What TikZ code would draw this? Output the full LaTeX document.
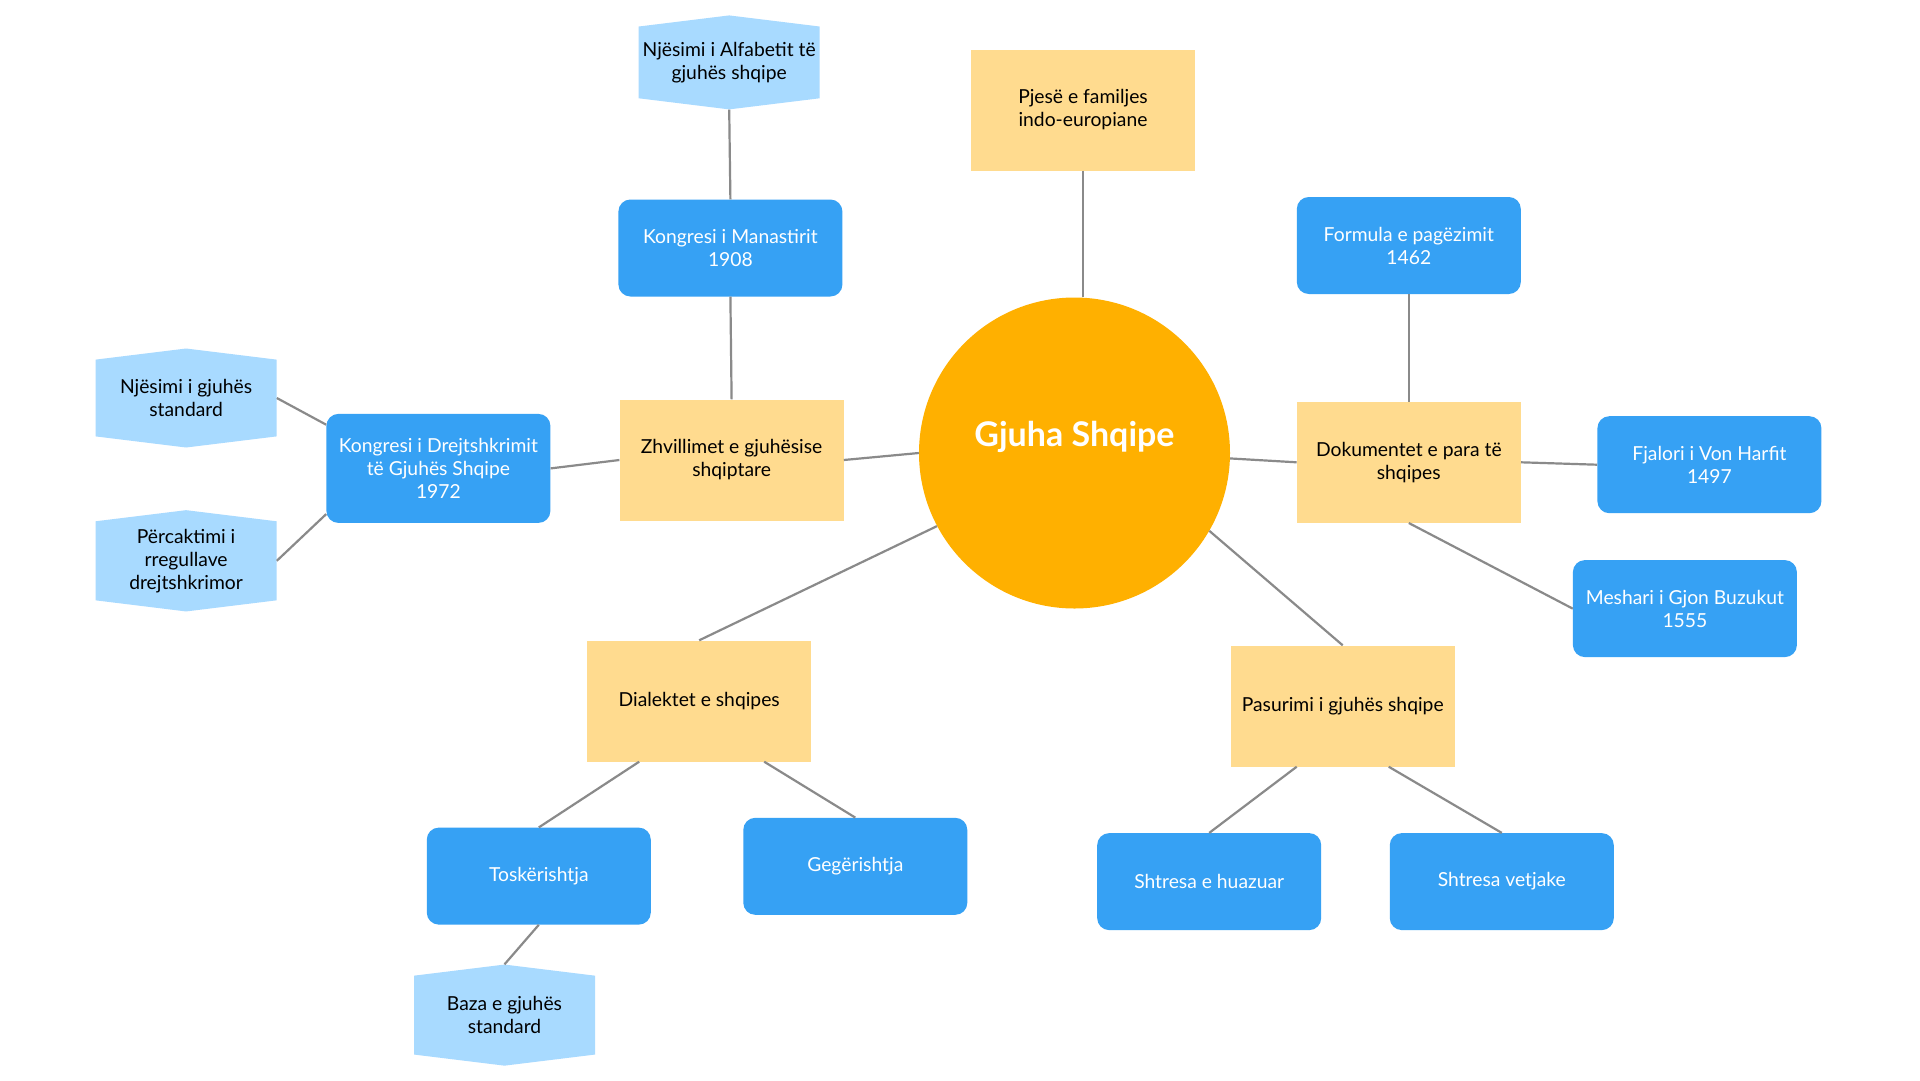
\documentclass[tikz,border=0pt]{standalone}
\usepackage{fontspec}
\setmainfont{Lato}
\usetikzlibrary{shapes.symbols}
\definecolor{orangec}{HTML}{FFB000}
\definecolor{jaune}{HTML}{FFDB8F}
\definecolor{bleu}{HTML}{36A1F4}
\definecolor{bleuclair}{HTML}{A8DAFF}
\definecolor{gris}{HTML}{8A8A8A}

\begin{document}
\begin{tikzpicture}[x=1pt,y=-1pt]
% fond
\useasboundingbox[fill=white] (0,0) rectangle (1920,1080);
% style des nœuds
\tikzstyle{sujet}=[circle,fill=orangec,text=white,minimum size=311pt,text depth=38pt,font=\fontsize{34}{40}\selectfont\bfseries]
\tikzstyle{theme}=[rectangle,fill=jaune,minimum width=224pt,minimum height=121pt,align=center,font=\fontsize{19.3}{23}\selectfont]
\tikzstyle{fait}=[rectangle,rounded corners=12pt,fill=bleu,text=white,minimum width=224pt,minimum height=97pt,align=center,font=\fontsize{19.3}{23}\selectfont]
\tikzstyle{note}=[signal,signal to=north and south,signal pointer angle=166,fill=bleuclair,minimum width=181pt,minimum height=93pt,inner sep=0pt,align=center,font=\fontsize{19.3}{23}\selectfont]
% style des liens
\tikzstyle{lien}=[draw=gris,line width=2.2pt]
% placement des nœuds
\node[sujet] (GS) at (1074.5,453) {Gjuha Shqipe};
\node[theme] (PF) at (1083,110) {Pjesë e familjes\\indo-europiane};
\node[theme] (ZH) at (731.6,460) {Zhvillimet e gjuhësise\\shqiptare};
\node[theme] (DP) at (1408.8,462.3) {Dokumentet e para të\\shqipes};
\node[theme] (DS) at (699.2,701) {Dialektet e shqipes};
\node[theme] (PS) at (1342.7,706) {Pasurimi i gjuhës shqipe};
\node[fait] (KM) at (730.4,248) {Kongresi i Manastirit\\1908};
\node[fait] (FP) at (1408.8,245.5) {Formula e pagëzimit\\1462};
\node[fait,minimum height=109pt] (KD) at (438.4,468.4) {Kongresi i Drejtshkrimit\\të Gjuhës Shqipe\\1972};
\node[fait] (FV) at (1709.4,464.7) {Fjalori i Von Harfit\\1497};
\node[fait] (MB) at (1684.9,608.6) {Meshari i Gjon Buzukut\\1555};
\node[fait] (TO) at (538.8,876.1) {Toskërishtja};
\node[fait] (GE) at (855.3,866.3) {Gegërishtja};
\node[fait] (SH) at (1209.2,881.6) {Shtresa e huazuar};
\node[fait] (SV) at (1501.8,881.6) {Shtresa vetjake};
\node[note] (NA) at (729.2,62.4) {Njësimi i Alfabetit të\\gjuhës shqipe};
\node[note] (NS) at (186.1,398) {Njësimi i gjuhës\\standard};
\node[note] (PR) at (186.1,560.8) {Përcaktimi i\\rregullave\\drejtshkrimor};
\node[note] (BG) at (504.5,1015.1) {Baza e gjuhës\\standard};
% placement des liens
\draw[lien] (PF.south) -- (PF.south |- GS.north);
\draw[lien] (GS.west) -- (ZH.east);
\draw[lien] (GS.-2) -- (DP.west);
\draw[lien] (GS.-152) -- (DS.north);
\draw[lien] (GS.-30) -- (PS.north);
\draw[lien] (ZH.north) -- (KM.south);
\draw[lien] (KM.north) -- (NA.south);
\draw[lien] (ZH.west) -- (KD.east);
\draw[lien] ([yshift=-11pt]KD.north west) -- (NS.east);
\draw[lien] ([yshift=9pt]KD.south west) -- (PR.east);
\draw[lien] (DP.north) -- (FP.south);
\draw[lien] (DP.east) -- (FV.west);
\draw[lien] (DP.south) -- (MB.west);
\draw[lien] ([xshift=-60pt]DS.south) -- (TO.north);
\draw[lien] ([xshift=65pt]DS.south) -- (GE.north);
\draw[lien] (TO.south) -- (BG.north);
\draw[lien] ([xshift=-46pt]PS.south) -- (SH.north);
\draw[lien] ([xshift=46pt]PS.south) -- (SV.north);

\end{tikzpicture}
\end{document}
